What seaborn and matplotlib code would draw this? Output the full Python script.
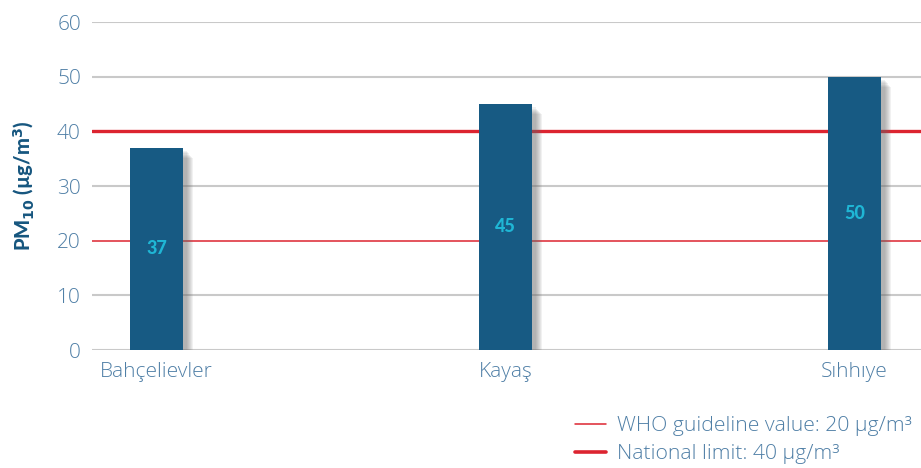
import matplotlib
matplotlib.use("Agg")
import matplotlib.pyplot as plt
import matplotlib.patheffects as pe
from matplotlib.lines import Line2D
import seaborn as sns
import pandas as pd

# PM10 annual means by monitoring station
stations = ["Bahçelievler", "Kayaş", "Sıhhıye"]
pm10 = [37, 45, 50]
who_guideline = 20
national_limit = 40
yticks = [0, 10, 20, 30, 40, 50, 60]

BAR = "#175a83"
VALUE = "#1fb6d5"
TEXT = "#4f7fa6"
LABEL = "#16567f"
RED = "#dc2430"
GRID = "#c9c9c9"

sns.set_theme(style="white")
plt.rcParams["font.family"] = ["Open Sans", "DejaVu Sans"]

df = pd.DataFrame({"station": stations, "pm10": pm10})

fig = plt.figure(figsize=(9.21, 4.68), dpi=100)
ax = fig.add_axes([92 / 921, 118 / 468, 1 - 92 / 921, 328 / 468])

for y in yticks:
    if y not in (who_guideline, national_limit):
        ax.axhline(y, color=GRID, lw=1.5, zorder=0)
ax.axhline(who_guideline, color=RED, lw=1.1, zorder=1)
ax.axhline(national_limit, color=RED, lw=2.4, zorder=1)

sns.barplot(data=df, x="station", y="pm10", color=BAR, width=0.152,
            saturation=1, ax=ax, zorder=3)

# soft drop shadow built from a few stacked offset copies
shadow = [pe.SimplePatchShadow(offset=(o, -o), shadow_rgbFace="#6a6a6a", alpha=0.09)
          for o in (2.5, 3.3, 4.1, 4.9, 5.7, 6.5, 7.3)]
for patch in ax.patches:
    patch.set_path_effects(shadow + [pe.Normal()])
    patch.set_edgecolor("none")

for i, v in enumerate(pm10):
    ax.text(i, v / 2, f"{v}", ha="center", va="center", color=VALUE,
            fontsize=13, fontweight="black", family=["Lato", "DejaVu Sans"], zorder=5)

ax.set_xlim(-0.185, 2.19)
ax.set_ylim(0, 60)
ax.set_yticks(yticks)
ax.tick_params(axis="both", length=0, labelsize=15, labelcolor=TEXT)
ax.tick_params(axis="y", pad=8)
ax.tick_params(axis="x", pad=9)
for lab in ax.get_xticklabels() + ax.get_yticklabels():
    lab.set_fontweight("light")
ax.set_xlabel("")
ax.set_ylabel(r"PM$_{\mathbf{10}}$ (µg/m$^{\mathbf{3}}$)", color=LABEL,
              fontsize=14.5, fontweight="black", family=["Lato", "DejaVu Sans"])
ax.yaxis.set_label_coords(-56 / 829, 0.5)
sns.despine(ax=ax, left=True, bottom=True)

handles = [Line2D([], [], color=RED, lw=1.1), Line2D([], [], color=RED, lw=2.6)]
labels = ["WHO guideline value: 20 µg/m³", "National limit: 40 µg/m³"]
leg = fig.legend(handles, labels, loc="upper left", bbox_to_anchor=(575 / 921, 1 - 416 / 468),
                 frameon=False, fontsize=15.2, handlelength=1.45, handletextpad=0.55,
                 labelspacing=0.4, borderpad=0, borderaxespad=0)
for t in leg.get_texts():
    t.set_color(TEXT)
    t.set_fontweight("light")

fig.savefig("out.png", dpi=100)
